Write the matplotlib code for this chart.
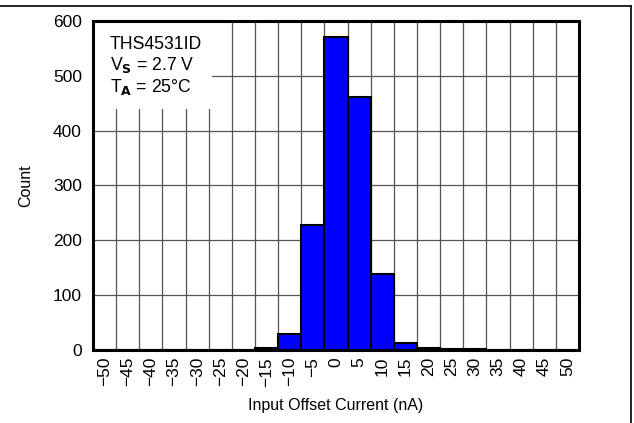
import numpy as np
import matplotlib
matplotlib.use("Agg")
import matplotlib.pyplot as plt
from matplotlib.patches import Rectangle
from matplotlib.lines import Line2D

plt.rcParams['font.family'] = ['Liberation Sans', 'DejaVu Sans']

# histogram bins (nA) and counts
bins = list(range(-50, 55, 5))
counts = [0, 0, 0, 0, 0, 0, 0, 3, 30, 228, 570, 462, 138, 12, 3, 1, 1, 0, 0, 0, 0]
yticks = [0, 100, 200, 300, 400, 500, 600]

fig = plt.figure(figsize=(6.34, 4.23), dpi=100)
ax = fig.add_axes([0.1467, 0.1726, 0.7666, 0.7778])

x = np.arange(len(bins))
ax.bar(x, counts, width=1.0, color='#0000FF', edgecolor='black', linewidth=1.5, zorder=3)

ax.set_xlim(-0.5, len(bins) - 0.5)
ax.set_ylim(0, 600)
ax.set_yticks(yticks)
ax.set_xticks(x)
ax.set_xticklabels([str(b).replace('-', '\u2212') for b in bins], rotation=90)
ax.set_xticks(np.arange(len(bins) + 1) - 0.5, minor=True)
ax.tick_params(axis='both', which='both', length=0)
ax.tick_params(axis='y', labelsize=12.5, pad=8)
ax.tick_params(axis='x', labelsize=12.5, pad=5)
ax.grid(False)
ax.grid(True, which='minor', axis='x', color='#555555', linewidth=0.9)
ax.grid(True, which='major', axis='y', color='#555555', linewidth=0.9)
ax.set_axisbelow(True)
for s in ax.spines.values():
    s.set_linewidth(2.2)
    s.set_zorder(5)

# white label box covering the grid
ax.add_patch(Rectangle((0, 0.733), 0.244, 0.267, transform=ax.transAxes,
                       facecolor='white', edgecolor='none', zorder=2))
ax.text(0.035, 0.915, 'THS4531ID', transform=ax.transAxes, fontsize=12.7, zorder=4)
ax.text(0.035, 0.850, r'V$_{\mathbf{S}}$ = 2.7 V', transform=ax.transAxes, fontsize=12.7, zorder=4)
ax.text(0.035, 0.785, r'T$_{\mathbf{A}}$ = 25°C', transform=ax.transAxes, fontsize=12.7, zorder=4)

ax.set_ylabel('Count', fontsize=11.5, labelpad=14)
ax.set_xlabel('Input Offset Current (nA)', fontsize=11.5, labelpad=8)

# outer frame lines
fig.add_artist(Line2D([0, 0.9953], [0.986, 0.986], transform=fig.transFigure, color='black', linewidth=1.2))
fig.add_artist(Line2D([0.9953, 0.9953], [0, 0.986], transform=fig.transFigure, color='black', linewidth=1.2))

fig.savefig('out.png', dpi=100)
